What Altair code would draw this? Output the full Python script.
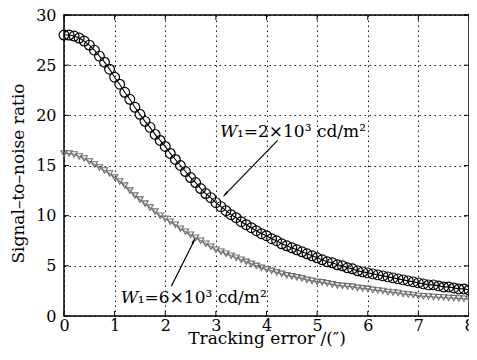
import altair as alt
import pandas as pd

x_vals = [round(i * 0.1, 1) for i in range(81)]

snr_w2 = [28.0, 28.0, 27.9, 27.7, 27.4, 27.0, 26.5, 25.9, 25.3, 24.6,
          23.8, 23.1, 22.3, 21.6, 20.8, 20.1, 19.4, 18.8, 18.1, 17.5,
          16.9, 16.2, 15.6, 15.0, 14.4, 13.8, 13.3, 12.7, 12.2, 11.8,
          11.3, 10.9, 10.5, 10.1, 9.8, 9.4, 9.1, 8.8, 8.5, 8.2,
          8.0, 7.7, 7.5, 7.2, 7.0, 6.8, 6.6, 6.4, 6.2, 6.0,
          5.8, 5.6, 5.4, 5.3, 5.1, 5.0, 4.8, 4.7, 4.5, 4.4,
          4.3, 4.2, 4.1, 4.0, 3.9, 3.8, 3.7, 3.6, 3.5, 3.4,
          3.3, 3.2, 3.1, 3.1, 3.0, 2.9, 2.9, 2.8, 2.7, 2.7, 2.6]

snr_w6 = [16.2, 16.2, 16.1, 15.9, 15.7, 15.4, 15.1, 14.8, 14.5, 14.2,
          13.8, 13.4, 13.0, 12.5, 12.0, 11.6, 11.2, 10.8, 10.4, 10.0,
          9.7, 9.4, 9.1, 8.7, 8.4, 8.1, 7.8, 7.5, 7.2, 6.9,
          6.6, 6.4, 6.2, 6.0, 5.8, 5.6, 5.4, 5.2, 5.0, 4.8,
          4.65, 4.5, 4.35, 4.2, 4.05, 3.95, 3.85, 3.75, 3.6, 3.5,
          3.4, 3.35, 3.25, 3.15, 3.05, 3.0, 2.95, 2.9, 2.8, 2.75,
          2.7, 2.6, 2.55, 2.5, 2.4, 2.35, 2.3, 2.2, 2.15, 2.1,
          2.0, 1.97, 1.95, 1.9, 1.87, 1.85, 1.8, 1.78, 1.75, 1.72, 1.7]

x_ticks = [0, 1, 2, 3, 4, 5, 6, 7, 8]
y_ticks = [0, 5, 10, 15, 20, 25, 30]

FONT = "DejaVu Serif"
W, H = 405, 301

df2 = pd.DataFrame({"x": x_vals, "y": snr_w2})
df6 = pd.DataFrame({"x": x_vals, "y": snr_w6})
dxt = pd.DataFrame({"t": x_ticks})
dyt = pd.DataFrame({"t": y_ticks})

xs = alt.Scale(domain=[0, 8], nice=False, zero=False)
ys = alt.Scale(domain=[0, 30], nice=False, zero=False)

X = alt.X("x:Q", scale=xs, title="Tracking error /(\u2033)",
          axis=alt.Axis(values=x_ticks, format="d"))
Y = alt.Y("y:Q", scale=ys, title="Signal\u2013to\u2013noise ratio",
          axis=alt.Axis(values=y_ticks, format="d", titleY=158))

line2 = alt.Chart(df2).mark_line(color="black", strokeWidth=1.1).encode(x=X, y=Y)
pts2 = alt.Chart(df2).mark_point(shape="circle", size=95, color="black",
                                  strokeWidth=1.2, filled=False, opacity=1).encode(x="x:Q", y="y:Q")
line6 = alt.Chart(df6).mark_line(color="#7a7a7a", strokeWidth=1.2).encode(x="x:Q", y="y:Q")
pts6 = alt.Chart(df6).mark_point(shape="triangle-down", size=40, color="#6e6e6e",
                                  strokeWidth=1.1, filled=False, opacity=1).encode(x="x:Q", y="y:Q")

# inward tick marks on all four sides
tk_b = alt.Chart(dxt).mark_rule(color="black", strokeWidth=1).encode(
    x=alt.X("t:Q", scale=xs), y=alt.value(H), y2=alt.value(H - 5))
tk_t = alt.Chart(dxt).mark_rule(color="black", strokeWidth=1).encode(
    x=alt.X("t:Q", scale=xs), y=alt.value(0), y2=alt.value(5))
tk_l = alt.Chart(dyt).mark_rule(color="black", strokeWidth=1).encode(
    y=alt.Y("t:Q", scale=ys), x=alt.value(0), x2=alt.value(5))
tk_r = alt.Chart(dyt).mark_rule(color="black", strokeWidth=1).encode(
    y=alt.Y("t:Q", scale=ys), x=alt.value(W), x2=alt.value(W - 5))

ann = pd.DataFrame({
    "x": [3.08, 1.12],
    "y": [17.8, 1.25],
    "rest": ["\u2081=2\u00d710\u00b3 cd/m\u00b2", "\u2081=6\u00d710\u00b3 cd/m\u00b2"],
})
tW = alt.Chart(ann).mark_text(text="W", font=FONT, fontSize=17, fontStyle="italic",
                              align="left", baseline="alphabetic", color="black").encode(
    x="x:Q", y="y:Q")
tRest = alt.Chart(ann).mark_text(font=FONT, fontSize=17, align="left", dx=17,
                                 baseline="alphabetic", color="black").encode(
    x="x:Q", y="y:Q", text="rest:N")

arrows = pd.DataFrame({
    "x": [4.22, 2.12], "y": [17.5, 2.97],
    "x2": [3.16, 2.58], "y2": [12.0, 7.6],
})
arrow_lines = alt.Chart(arrows).mark_rule(color="black", strokeWidth=1.2).encode(
    x="x:Q", y="y:Q", x2="x2:Q", y2="y2:Q")
heads = pd.DataFrame({"x": [3.195, 2.555], "y": [12.19, 7.44], "ang": [224, 26]})
arrow_heads = alt.Chart(heads).mark_point(shape="wedge", size=70, filled=True,
                                          color="black", opacity=1).encode(
    x="x:Q", y="y:Q", angle=alt.Angle("ang:Q", scale=None))

chart = alt.layer(line2, pts2, line6, pts6, tk_b, tk_t, tk_l, tk_r,
                  arrow_lines, arrow_heads, tW, tRest).properties(
    width=W, height=H,
    autosize=alt.AutoSizeParams(type="none"),
    padding={"left": 56, "top": 7, "right": 0, "bottom": 36},
).configure_view(
    stroke="black", strokeWidth=1.5
).configure_axis(
    domain=False, ticks=False,
    grid=True, gridColor="black", gridDash=[1.5, 3.5], gridWidth=1, gridOpacity=0.9,
    labelFont=FONT, labelFontSize=16, labelColor="black",
    titleFont=FONT, titleFontSize=17, titleColor="black", titleFontWeight="normal",
).configure_axisY(
    labelPadding=8, titlePadding=8,
).configure_axisX(
    labelPadding=1, titlePadding=-3, labelFlush=False,
)

chart.save("out.html", embed_options={"renderer": "svg", "actions": False})
